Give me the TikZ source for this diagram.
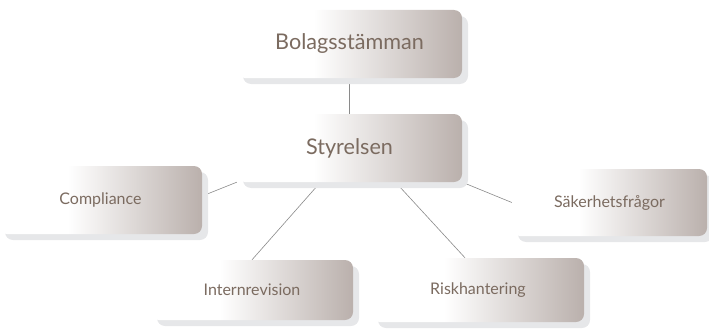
\documentclass[tikz,border=0pt]{standalone}
\usepackage{fontspec}
\setmainfont{Lato}
\usetikzlibrary{shadows,backgrounds}
\definecolor{boxtone}{HTML}{BAB0AC}
\definecolor{labeltone}{HTML}{7B6B60}
\definecolor{shadetone}{HTML}{E6E7E9}
\definecolor{linktone}{HTML}{8A8A8A}
\pgfdeclarehorizontalshading{boxfade}{100bp}{color(0bp)=(white);color(25bp)=(white);color(42bp)=(white);color(75bp)=(boxtone);color(100bp)=(boxtone)}
\begin{document}
\begin{tikzpicture}[x=1pt,y=-1pt,
  orgbox/.style={shading=boxfade,rounded corners=8pt,inner sep=0pt,text=labeltone,
    drop shadow={shadow xshift=6pt,shadow yshift=-6pt,fill=shadetone,opacity=1}},
  bigbox/.style={orgbox,font=\fontsize{21.6}{26}\selectfont},
  smallbox/.style={orgbox,font=\fontsize{16}{19}\selectfont},
  link/.style={draw=linktone,line width=.6pt}]
\useasboundingbox(0,0)rectangle(709,329);
% top levels
\node[bigbox,minimum width=225,minimum height=68](bolag)at(349.5,44){Bolagsstämman};
\node[bigbox,minimum width=225,minimum height=68](styrelse)at(349.5,148){Styrelsen};
% committees and functions
\node[smallbox,minimum width=203,minimum height=68](compliance)at(100.5,200){Compliance};
\node[smallbox,minimum width=195,minimum height=67](sakerhet)at(609.5,202.5){Säkerhetsfrågor};
\node[smallbox,minimum width=202,minimum height=60](intern)at(252,290){Internrevision};
\node[smallbox,minimum width=212,minimum height=64](risk)at(478,290){Riskhantering};
\begin{scope}[on background layer]
\draw[link](bolag.south)--(styrelse.north);
\draw[link](styrelse.south west)--([yshift=4]compliance.east);
\draw[link](styrelse.south east)--(sakerhet.west);
\draw[link]([xshift=-29]styrelse.south)--(intern.north);
\draw[link]([xshift=46]styrelse.south)--([xshift=-13]risk.north);
\end{scope}
\end{tikzpicture}
\end{document}
